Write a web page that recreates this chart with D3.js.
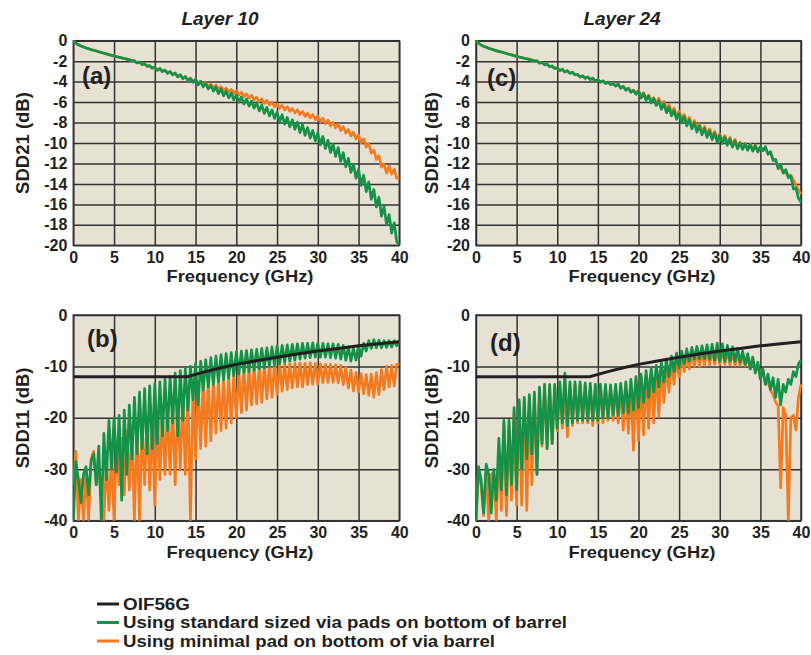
<!DOCTYPE html>
<html><head><meta charset="utf-8">
<script src="https://cdn.jsdelivr.net/npm/d3@7/dist/d3.min.js"></script>
<style>
body{margin:0;background:#fff;}
svg text{font-family:"Liberation Sans",Arial,Helvetica,sans-serif;font-weight:bold;fill:#231f20;}
</style></head><body>
<svg id="chart" width="811" height="655"></svg>
<script>
// ---------- DATA ----------
const frequencyTicks = [0,5,10,15,20,25,30,35,40];
const sdd21Ticks = [0,-2,-4,-6,-8,-10,-12,-14,-16,-18,-20];
const sdd11Ticks = [0,-10,-20,-30,-40];
// sampled every 0.3125 GHz from 0 to 40 GHz (129 samples)
const sampleStepGHz = 0.3125;

const layer10SDD21Standard = [0,-0.25,-0.4,-0.52,-0.62,-0.71,-0.79,-0.87,
-0.94,-1.01,-1.08,-1.15,-1.22,-1.29,-1.36,-1.43,
-1.5,-1.56,-1.62,-1.68,-1.74,-1.8,-1.87,-1.94,
-1.95,-2.17,-2.09,-2.33,-2.26,-2.51,-2.44,-2.69,
-2.58,-2.89,-2.72,-3.03,-2.87,-3.19,-3.03,-3.35,
-3.16,-3.55,-3.33,-3.72,-3.51,-3.9,-3.69,-4.07,
-3.78,-4.32,-3.98,-4.52,-4.18,-4.72,-4.38,-4.92,
-4.52,-5.18,-4.72,-5.38,-4.92,-5.58,-5.12,-5.78,
-5.3,-6.0,-5.5,-6.2,-5.7,-6.4,-5.9,-6.6,
-6.05,-6.87,-6.29,-7.11,-6.53,-7.35,-6.77,-7.6,
-7.0,-7.92,-7.24,-8.16,-7.5,-8.42,-7.74,-8.67,
-7.95,-8.98,-8.21,-9.25,-8.49,-9.53,-8.77,-9.81,
-9.0,-10.18,-9.36,-10.55,-9.74,-10.93,-10.12,-11.31,
-10.45,-11.8,-10.95,-12.33,-11.5,-12.88,-12.07,-13.45,
-12.55,-14.15,-13.15,-14.75,-13.8,-15.5,-14.55,-16.25,
-15.3,-17.15,-16.2,-18.0,-17.0,-18.8,-17.8,-19.65,-19.9];

const layer10SDD21Minimal = [0,-0.25,-0.4,-0.52,-0.62,-0.71,-0.79,-0.87,
-0.94,-1.01,-1.08,-1.15,-1.22,-1.29,-1.36,-1.43,
-1.5,-1.56,-1.62,-1.68,-1.74,-1.8,-1.87,-1.94,
-1.95,-2.17,-2.09,-2.33,-2.26,-2.51,-2.44,-2.69,
-2.6,-2.87,-2.74,-3.01,-2.88,-3.15,-3.02,-3.29,
-3.18,-3.5,-3.34,-3.66,-3.5,-3.82,-3.66,-3.99,
-3.82,-4.15,-3.96,-4.29,-4.1,-4.43,-4.24,-4.57,
-4.35,-4.72,-4.49,-4.86,-4.63,-5.0,-4.77,-5.14,
-4.88,-5.3,-5.04,-5.46,-5.2,-5.62,-5.36,-5.78,
-5.52,-5.96,-5.68,-6.12,-5.84,-6.28,-6.0,-6.44,
-6.17,-6.6,-6.32,-6.75,-6.47,-6.9,-6.62,-7.05,
-6.75,-7.23,-6.91,-7.39,-7.07,-7.55,-7.23,-7.71,
-7.38,-7.92,-7.58,-8.12,-7.78,-8.32,-7.98,-8.52,
-8.15,-8.77,-8.4,-9.03,-8.67,-9.31,-8.95,-9.6,
-9.2,-10.0,-9.6,-10.4,-10.05,-11.0,-10.7,-11.6,
-11.25,-12.35,-12.05,-12.95,-12.25,-13.05,-12.55,-13.45,-13.4];

const layer24SDD21Standard = [0,-0.25,-0.42,-0.55,-0.65,-0.74,-0.82,-0.9,
-0.97,-1.04,-1.11,-1.18,-1.25,-1.32,-1.39,-1.46,
-1.53,-1.59,-1.65,-1.71,-1.77,-1.83,-1.9,-1.97,
-1.96,-2.2,-2.12,-2.36,-2.29,-2.54,-2.47,-2.72,
-2.65,-2.92,-2.79,-3.06,-2.93,-3.2,-3.07,-3.34,
-3.3,-3.56,-3.42,-3.68,-3.54,-3.8,-3.67,-3.94,
-3.8,-4.06,-3.92,-4.18,-4.04,-4.3,-4.17,-4.44,
-4.25,-4.65,-4.45,-4.85,-4.65,-5.05,-4.85,-5.25,
-4.92,-5.6,-5.16,-5.84,-5.4,-6.08,-5.65,-6.34,
-5.85,-6.71,-6.17,-7.03,-6.49,-7.35,-6.81,-7.68,
-7.12,-8.03,-7.42,-8.33,-7.72,-8.63,-8.02,-8.93,
-8.32,-9.2,-8.56,-9.44,-8.8,-9.68,-9.04,-9.92,
-9.25,-10.04,-9.43,-10.22,-9.61,-10.4,-9.79,-10.58,
-10.0,-10.64,-10.08,-10.72,-10.16,-10.8,-10.24,-10.88,
-10.35,-10.75,-10.35,-11.1,-10.85,-11.7,-11.6,-12.5,
-12.1,-12.95,-12.6,-13.4,-13.2,-14.5,-14.4,-15.4,-15.8];

const layer24SDD21Minimal = [0,-0.25,-0.42,-0.55,-0.65,-0.74,-0.82,-0.9,
-0.97,-1.04,-1.11,-1.18,-1.25,-1.32,-1.39,-1.46,
-1.53,-1.59,-1.65,-1.71,-1.77,-1.83,-1.9,-1.97,
-1.97,-2.19,-2.13,-2.35,-2.3,-2.53,-2.48,-2.71,
-2.67,-2.9,-2.81,-3.04,-2.95,-3.18,-3.09,-3.32,
-3.32,-3.54,-3.44,-3.66,-3.56,-3.78,-3.69,-3.92,
-3.82,-4.04,-3.94,-4.16,-4.06,-4.28,-4.19,-4.42,
-4.28,-4.58,-4.46,-4.76,-4.64,-4.94,-4.82,-5.12,
-4.85,-5.37,-5.09,-5.61,-5.33,-5.85,-5.58,-6.11,
-5.62,-6.34,-5.94,-6.66,-6.26,-6.98,-6.58,-7.31,
-6.9,-7.65,-7.2,-7.95,-7.5,-8.25,-7.8,-8.55,
-8.15,-8.87,-8.39,-9.11,-8.63,-9.35,-8.87,-9.59,
-9.1,-9.79,-9.28,-9.97,-9.46,-10.15,-9.64,-10.33,
-9.95,-10.49,-10.03,-10.57,-10.11,-10.65,-10.19,-10.73,
-10.45,-10.75,-10.55,-11.0,-11.0,-11.6,-11.7,-12.4,
-12.45,-12.9,-12.95,-13.1,-13.2,-13.6,-14.1,-14.6,-15.0];

const layer10SDD11Standard = [-40,-28.5,-32,-36.5,-31,-29.5,-35,-28.5,
-27,-33,-25.5,-40,-23,-32,-20.5,-30,
-20,-30.5,-19.5,-36,-18.5,-31,-17.5,-28,
-16,-27,-15,-26,-14.3,-27,-13.8,-26,
-13.3,-25,-13,-23.5,-12.5,-22.5,-12,-21,
-11.3,-23.5,-10.8,-20.5,-10.3,-18.5,-10,-16.5,
-9.5,-17.5,-9,-14.5,-8.7,-14,-8.3,-13.5,
-8,-13,-7.7,-12.6,-7.5,-12.3,-7.3,-11.8,
-7.2,-11.5,-7,-11.2,-6.9,-11,-6.8,-10.8,
-6.7,-10.5,-6.5,-10.3,-6.4,-10,-6.2,-9.8,
-6,-9.5,-5.9,-9.2,-5.8,-9,-5.7,-8.8,
-5.6,-8.6,-5.5,-8.4,-5.5,-8.3,-5.4,-8.2,
-5.5,-8.2,-5.5,-8.2,-5.6,-8.3,-5.6,-8.4,
-5.7,-8.6,-5.9,-8.8,-6.2,-9,-6.4,-8.8,
-6,-8,-5.5,-7,-5,-6.5,-4.8,-6.4,
-4.9,-6.4,-5,-6.3,-5,-6.2,-5,-6,-5];

const layer10SDD11Minimal = [-33,-26.5,-40,-32,-40,-30,-40,-28,
-26.5,-33,-29,-37,-40,-28,-38,-27,
-40,-25,-33,-24,-35,-22.5,-34,-21.5,
-40,-21,-40,-20.5,-33,-20,-34,-19.5,
-37,-19,-32,-18.5,-31,-18,-31,-17,
-33,-16.5,-30,-15.5,-31,-14.5,-40,-13.5,
-28,-13,-26,-12.5,-25.5,-12.5,-24.5,-12.8,
-23,-12.5,-22.5,-12.3,-22,-12,-21,-11.5,
-20,-11,-19,-10.5,-18.5,-10.2,-17.5,-10,
-17.3,-9.8,-17,-9.6,-16.3,-9.5,-16,-9.5,
-15.4,-9.4,-14.8,-9.4,-14.5,-9.5,-14.2,-9.4,
-14,-9.3,-14,-9.4,-13.6,-9.3,-13.5,-9.4,
-13.4,-9.5,-13.2,-9.6,-13.1,-9.6,-13.1,-9.7,
-13.2,-9.8,-13.6,-10.2,-14.2,-10.7,-14.8,-11.2,
-15,-11.4,-15.3,-11.6,-15.6,-11.5,-16,-11.2,
-15.5,-10.6,-14.5,-10,-14,-9.8,-13.8,-9.6,-9.5];

const layer24SDD11Standard = [-40,-29.5,-32,-38.5,-29,-31,-38.5,-30,
-36,-24,-34,-20.5,-35,-20.5,-33,-18,
-34,-16.5,-30,-16,-28,-15.5,-27,-15,
-31,-14,-25,-13.5,-26,-13.5,-25,-13.5,
-22,-13,-21,-11.3,-21.5,-13,-21,-13,
-20.5,-13,-20.5,-13.2,-20.5,-13.3,-20.5,-13.5,
-20.5,-13.5,-20,-13.5,-20,-13.6,-19.5,-13.5,
-19.5,-13.3,-19,-13,-19,-12.5,-18.5,-12,
-18,-11.5,-17,-10.8,-16,-10.3,-15,-9.8,
-14,-9.2,-13,-8.6,-12,-8,-11,-7.4,
-10.3,-7,-9.5,-6.6,-9,-6.3,-8.6,-6.1,
-8.5,-6,-8.5,-5.8,-8.6,-5.7,-8.8,-5.5,
-9,-5.6,-9,-5.9,-9,-6.2,-9,-6.5,
-9.2,-7,-9.6,-7.5,-10.5,-8.2,-11.3,-9.2,
-12.5,-10.5,-13.5,-11.5,-14.5,-12.2,-16,-12.5,
-17.5,-13.5,-15,-12.5,-13.5,-11,-12,-9.5,-8.8];

const layer24SDD11Minimal = [-40,-30,-33,-39,-30,-40,-31,-30.5,
-40,-26,-38,-21,-39,-21.5,-36,-19,
-37,-17,-37,-16.5,-38,-16,-33,-15.5,
-31,-14.3,-25.5,-13.8,-26,-13.8,-25,-14,
-22.5,-13.5,-22,-14.5,-23.7,-13.5,-21.5,-13.5,
-21,-13.5,-21,-13.8,-21,-14,-21.5,-14,
-21,-14,-21,-14,-20.5,-14,-20.5,-14,
-21,-13.8,-22.4,-13.5,-23,-13.2,-26.3,-12.8,
-24.4,-12.3,-23.3,-11.6,-22,-11,-21,-10.5,
-19.8,-10,-17,-9.5,-15,-9,-13.5,-8.5,
-12,-8.2,-11,-7.8,-10.5,-7.4,-10,-7.1,
-10,-7,-9.8,-6.9,-9.7,-6.9,-9.6,-6.8,
-9.6,-6.9,-9.6,-7,-9.7,-7.2,-9.8,-7.5,
-9.8,-7.8,-9.9,-8.2,-10.5,-8.2,-11,-9.5,
-11.7,-11,-13.5,-13,-14.6,-15.5,-16.9,-17.6,
-33.6,-18,-19.5,-40,-20,-19.5,-22.4,-16,-13.5];

const oif56gFreq = [0,14,16,18,20,22.5,25,27.5,30,32.5,35,37.5,40];
const oif56gLimit = [-12,-12,-11.1,-10.3,-9.6,-8.9,-8.2,-7.6,-7.0,-6.5,-6.0,-5.6,-5.2];

const legendLabels = ["OIF56G","Using standard sized via pads on bottom of barrel","Using minimal pad on bottom of via barrel"];
const colors = {oif:"#231f20", standard:"#14924a", minimal:"#f47a20"};

// ---------- LAYOUT ----------
const panels = [
  {id:"a", x0:73.3, x1:399.3, y0:40.7, y1:245.3, yDomain:[-20,0], yTicks:sdd21Ticks, yTitle:"SDD21 (dB)", yTitleX:22.5,
   label:"(a)", labelX:82, labelY:84, title:"Layer 10", titleX:220, xTitleX:240,
   standard:layer10SDD21Standard, minimal:layer10SDD21Minimal, oif:false},
  {id:"c", x0:476, x1:801, y0:40.7, y1:245.3, yDomain:[-20,0], yTicks:sdd21Ticks, yTitle:"SDD21 (dB)", yTitleX:432,
   label:"(c)", labelX:487, labelY:86, title:"Layer 24", titleX:622, xTitleX:642,
   standard:layer24SDD21Standard, minimal:layer24SDD21Minimal, oif:false},
  {id:"b", x0:73.3, x1:399.3, y0:315, y1:520.7, yDomain:[-40,0], yTicks:sdd11Ticks, yTitle:"SDD11 (dB)", yTitleX:22.5,
   label:"(b)", labelX:87, labelY:347, title:null, xTitleX:240,
   standard:layer10SDD11Standard, minimal:layer10SDD11Minimal, oif:true},
  {id:"d", x0:476, x1:801, y0:315, y1:520.7, yDomain:[-40,0], yTicks:sdd11Ticks, yTitle:"SDD11 (dB)", yTitleX:432,
   label:"(d)", labelX:490, labelY:351, title:null, xTitleX:642,
   standard:layer24SDD11Standard, minimal:layer24SDD11Minimal, oif:true}
];

const svg = d3.select("#chart");
const gridColor = "#333333";
const fmt = d => String(d);

panels.forEach(p => {
  const x = d3.scaleLinear().domain([0,40]).range([p.x0,p.x1]);
  const y = d3.scaleLinear().domain(p.yDomain).range([p.y1,p.y0]);
  const g = svg.append("g");
  const w = p.x1 - p.x0, h = p.y1 - p.y0;

  g.append("rect").attr("x",p.x0).attr("y",p.y0).attr("width",w).attr("height",h).attr("fill","#e6e1d3");

  // grid
  g.append("g").attr("transform",`translate(0,${p.y1})`)
    .call(d3.axisBottom(x).tickValues(frequencyTicks).tickSize(-h).tickFormat(""))
    .call(s=>{s.select(".domain").remove(); s.selectAll("line").attr("stroke",gridColor).attr("stroke-width",1.5);});
  g.append("g").attr("transform",`translate(${p.x0},0)`)
    .call(d3.axisLeft(y).tickValues(p.yTicks).tickSize(-w).tickFormat(""))
    .call(s=>{s.select(".domain").remove(); s.selectAll("line").attr("stroke",gridColor).attr("stroke-width",1.5);});

  // tick labels
  g.append("g").attr("transform",`translate(0,${p.y1})`)
    .call(d3.axisBottom(x).tickValues(frequencyTicks).tickSize(0).tickPadding(6).tickFormat(fmt))
    .call(s=>{s.select(".domain").remove(); s.selectAll("text").attr("font-size",16).attr("fill","#231f20");});
  g.append("g").attr("transform",`translate(${p.x0},0)`)
    .call(d3.axisLeft(y).tickValues(p.yTicks).tickSize(0).tickPadding(6).tickFormat(fmt))
    .call(s=>{s.select(".domain").remove(); s.selectAll("text").attr("font-size",16).attr("fill","#231f20");});

  // frame
  g.append("rect").attr("x",p.x0).attr("y",p.y0).attr("width",w).attr("height",h)
    .attr("fill","none").attr("stroke",gridColor).attr("stroke-width",1.5);

  // clip
  const clipId = "clip-"+p.id;
  g.append("clipPath").attr("id",clipId).append("rect")
    .attr("x",p.x0).attr("y",p.y0-2).attr("width",w+1).attr("height",h+2);

  const line = d3.line().x((d,i)=>x(i*sampleStepGHz)).y(d=>y(d));
  const plot = g.append("g").attr("clip-path",`url(#${clipId})`);
  plot.append("path").datum(p.minimal).attr("d",line).attr("fill","none")
    .attr("stroke",colors.minimal).attr("stroke-width",2.7).attr("stroke-linejoin","round");
  plot.append("path").datum(p.standard).attr("d",line).attr("fill","none")
    .attr("stroke",colors.standard).attr("stroke-width",2.7).attr("stroke-linejoin","round");
  if (p.oif) {
    const oifLine = d3.line().x((d,i)=>x(oif56gFreq[i])).y(d=>y(d));
    plot.append("path").datum(oif56gLimit).attr("d",oifLine).attr("fill","none")
      .attr("stroke",colors.oif).attr("stroke-width",3);
  }

  // labels
  g.append("text").attr("x",p.labelX).attr("y",p.labelY).attr("font-size",24).text(p.label);
  if (p.title) g.append("text").attr("x",p.titleX).attr("y",25).attr("text-anchor","middle")
      .attr("font-size",19).attr("font-style","italic").text(p.title);
  g.append("text").attr("x",p.xTitleX).attr("y",p.y1+37).attr("text-anchor","middle")
    .attr("font-size",16.5).attr("textLength",147).attr("lengthAdjust","spacingAndGlyphs").text("Frequency (GHz)");
  g.append("text").attr("transform",`translate(${p.yTitleX},${(p.y0+p.y1)/2}) rotate(-90)`)
    .attr("text-anchor","middle").attr("dy","0.35em").attr("font-size",18.5).text(p.yTitle);
});

// legend
const legendColors = [colors.oif, colors.standard, colors.minimal];
const legendWidths = [67, 444, 372];
const lg = svg.append("g");
legendLabels.forEach((t,i)=>{
  const yy = 604 + i*18.5;
  lg.append("line").attr("x1",97).attr("x2",119).attr("y1",yy).attr("y2",yy)
    .attr("stroke",legendColors[i]).attr("stroke-width",3);
  lg.append("text").attr("x",123).attr("y",yy).attr("dy","0.36em").attr("font-size",16)
    .attr("textLength",legendWidths[i]).attr("lengthAdjust","spacingAndGlyphs").text(t);
});
</script>
</body></html>
